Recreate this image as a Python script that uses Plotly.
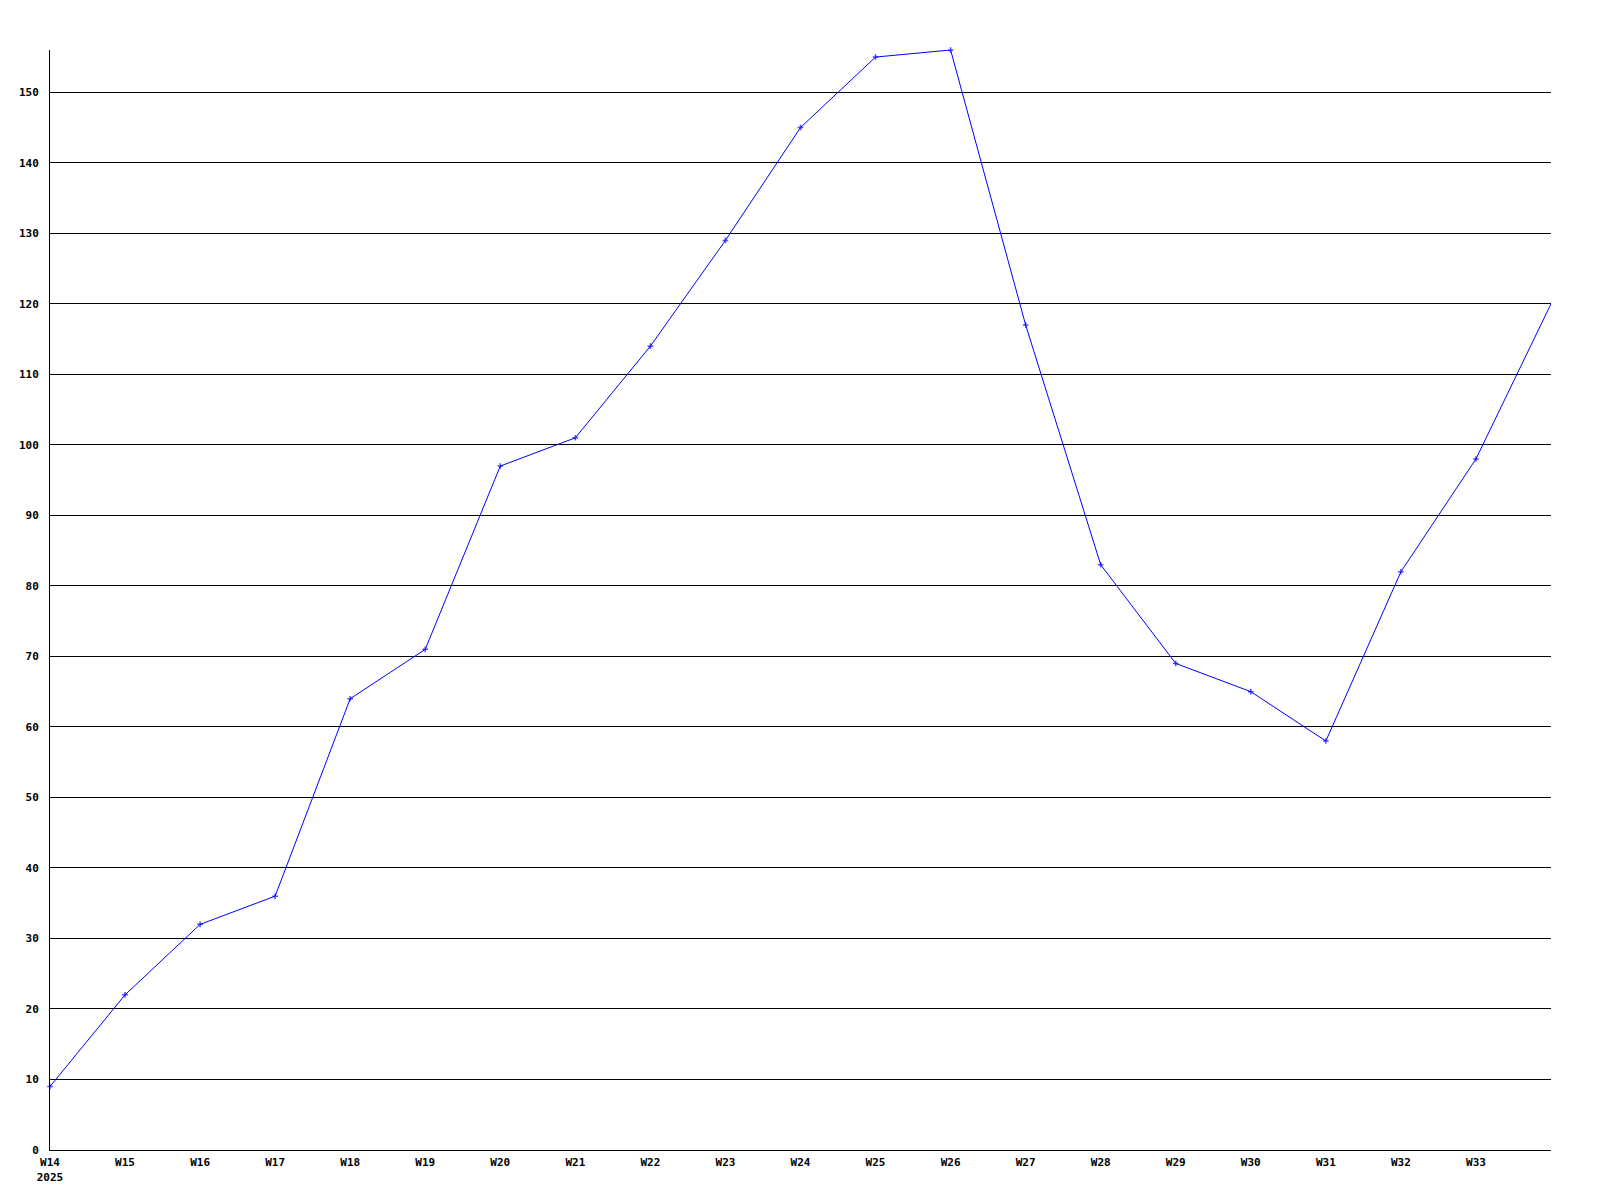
import plotly.graph_objects as go

weeks = ["W14", "W15", "W16", "W17", "W18", "W19", "W20", "W21", "W22", "W23",
         "W24", "W25", "W26", "W27", "W28", "W29", "W30", "W31", "W32", "W33", "W34"]
values = [9, 22, 32, 36, 64, 71, 97, 101, 114, 129,
          145, 155, 156, 117, 83, 69, 65, 58, 82, 98, 120]
tick_weeks = weeks[:-1]
tick_labels = ["W14<br>2025"] + weeks[1:-1]
y_ticks = list(range(0, 151, 10))

# the last (unlabelled, still running) week has no marker in the original
marker_sizes = [4] * (len(weeks) - 1) + [0]

fig = go.Figure()
fig.add_trace(go.Scatter(
    x=weeks, y=values, mode="lines+markers",
    line=dict(color="#0000ff", width=1),
    marker=dict(symbol="cross-thin", size=marker_sizes, color="#0000ff",
                line=dict(color="#0000ff", width=1.5)),
    cliponaxis=False,
    hoverinfo="x+y", showlegend=False,
))

font = dict(family="DejaVu Sans Mono", size=11, color="black", weight="bold")

fig.update_layout(
    width=1592, height=1192,
    margin=dict(l=42, r=49, t=42, b=50),
    paper_bgcolor="white", plot_bgcolor="white",
    xaxis=dict(
        type="category", range=[0, len(weeks) - 1],
        tickvals=tick_weeks, ticktext=tick_labels,
        showgrid=False, zeroline=False,
        showline=True, linecolor="black", linewidth=1,
        ticks="", tickfont=font, ticklabelstandoff=2,
    ),
    yaxis=dict(
        range=[0, 156], tickvals=y_ticks,
        showgrid=True, gridcolor="black", gridwidth=1,
        zeroline=False,
        showline=True, linecolor="black", linewidth=1,
        ticks="", tickfont=font, ticklabelstandoff=8,
    ),
)

fig.write_html("out.html")
